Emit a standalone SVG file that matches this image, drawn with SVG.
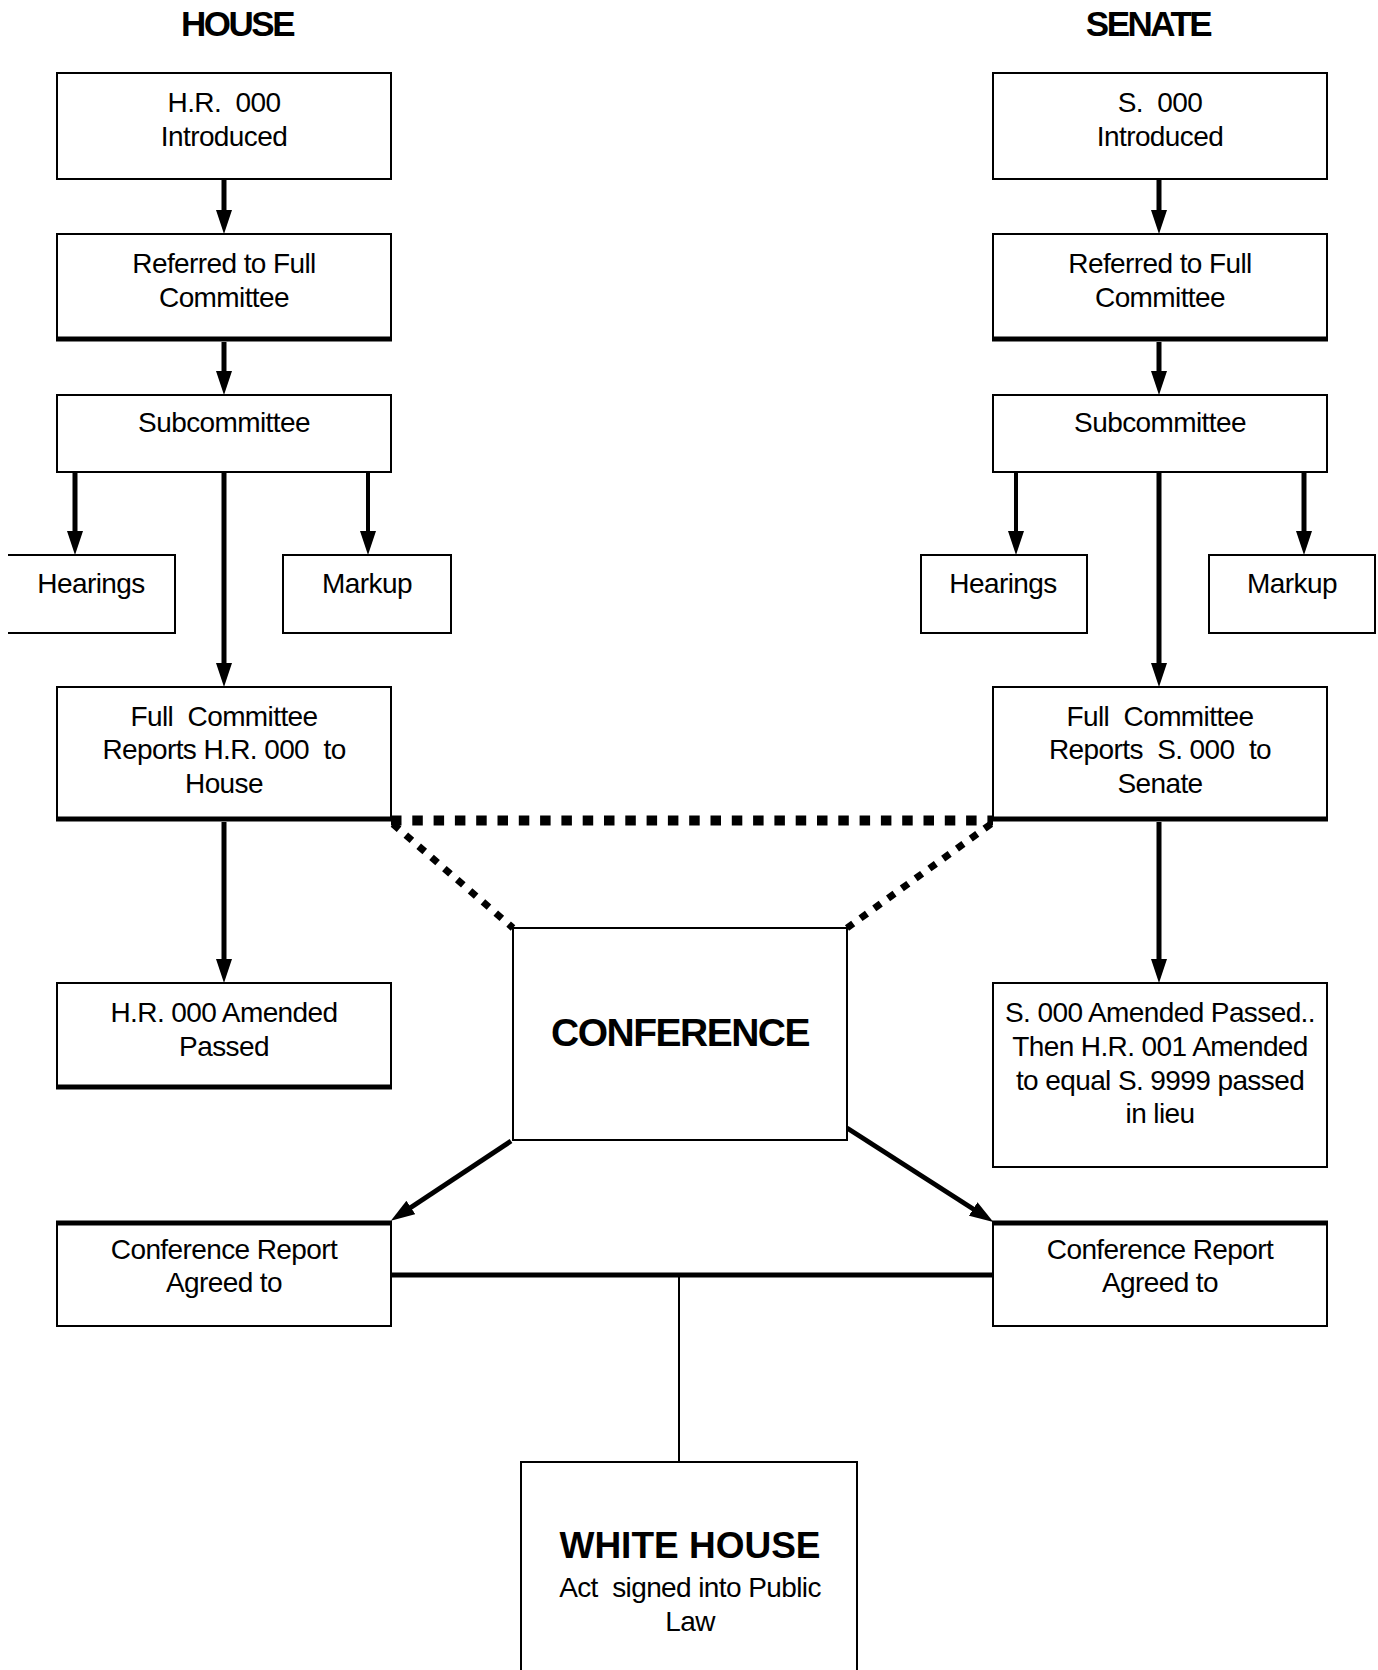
<svg xmlns="http://www.w3.org/2000/svg" width="1378" height="1670" viewBox="0 0 1378 1670" xml:space="preserve">
<style>
.box{fill:#fff;stroke:#000;stroke-width:2}
.thick{stroke:#000;stroke-width:5;fill:none}
.t{font-family:"Liberation Sans",Arial,sans-serif;font-size:28px;letter-spacing:-0.6px;text-anchor:middle;fill:#000;white-space:pre}
.title{font-family:"Liberation Sans",Arial,sans-serif;font-size:35px;font-weight:bold;letter-spacing:-2.5px;text-anchor:middle;fill:#000}
.big{font-family:"Liberation Sans",Arial,sans-serif;font-weight:bold;text-anchor:middle;fill:#000}
.arr{stroke:#000;stroke-width:5;fill:none;marker-end:url(#ah)}
.arr4{stroke:#000;stroke-width:4;fill:none;marker-end:url(#ah)}
</style>
<defs>
<marker id="ah" markerUnits="userSpaceOnUse" viewBox="0 -8 24 16" markerWidth="24" markerHeight="16" refX="1" refY="0" orient="auto">
<path d="M0,-8 L24,0 L0,8 z" fill="#000"/>
</marker>
</defs>
<rect width="1378" height="1670" fill="#fff"/>

<text class="title" x="237" y="36">HOUSE</text>
<text class="title" x="1148" y="36">SENATE</text>

<g id="connectors">
<line class="arr" x1="224" y1="180" x2="224" y2="211"/>
<line class="arr" x1="224" y1="342" x2="224" y2="372"/>
<line class="arr" x1="75" y1="473" x2="75" y2="532"/>
<line class="arr4" x1="368" y1="473" x2="368" y2="532"/>
<line class="arr" x1="224" y1="473" x2="224" y2="664"/>
<line class="arr" x1="224" y1="822" x2="224" y2="960"/>

<line class="arr" x1="1159" y1="180" x2="1159" y2="211"/>
<line class="arr" x1="1159" y1="342" x2="1159" y2="372"/>
<line class="arr4" x1="1016" y1="473" x2="1016" y2="532"/>
<line class="arr" x1="1304" y1="473" x2="1304" y2="532"/>
<line class="arr" x1="1159" y1="473" x2="1159" y2="664"/>
<line class="arr" x1="1159" y1="822" x2="1159" y2="960"/>

<line x1="391" y1="820.5" x2="993" y2="820.5" stroke="#000" stroke-width="10" stroke-dasharray="10.5 10.8"/>
<line x1="393" y1="824" x2="513" y2="928" stroke="#000" stroke-width="7" stroke-dasharray="8 9"/>
<line x1="991" y1="824" x2="847" y2="928" stroke="#000" stroke-width="7" stroke-dasharray="8 9"/>

<line class="arr" x1="511" y1="1141" x2="410" y2="1208"/>
<line class="arr" x1="847" y1="1128" x2="974" y2="1209.5"/>

<line x1="391" y1="1275" x2="993" y2="1275" stroke="#000" stroke-width="5"/>
<line x1="679" y1="1275" x2="679" y2="1462" stroke="#000" stroke-width="2"/>
</g>

<g id="h_intro">
<rect class="box" x="57" y="73" width="334" height="106"/>
<text class="t" x="224" y="112">H.R.  000</text>
<text class="t" x="224" y="146">Introduced</text>
</g>
<g id="h_ref">
<rect class="box" x="57" y="234" width="334" height="106"/>
<line class="thick" x1="56" y1="339" x2="392" y2="339"/>
<text class="t" x="224" y="273">Referred to Full</text>
<text class="t" x="224" y="307">Committee</text>
</g>
<g id="h_sub">
<rect class="box" x="57" y="395" width="334" height="77"/>
<text class="t" x="224" y="432">Subcommittee</text>
</g>
<g id="h_hear">
<path d="M8,555 H175 V633 H8" fill="#fff" stroke="#000" stroke-width="2"/>
<text class="t" x="91" y="593">Hearings</text>
</g>
<g id="h_mark">
<rect class="box" x="283" y="555" width="168" height="78"/>
<text class="t" x="367" y="593">Markup</text>
</g>
<g id="h_full">
<rect class="box" x="57" y="687" width="334" height="133"/>
<line class="thick" x1="56" y1="819" x2="392" y2="819"/>
<text class="t" x="224" y="726">Full  Committee</text>
<text class="t" x="224" y="759">Reports H.R. 000  to</text>
<text class="t" x="224" y="793">House</text>
</g>
<g id="h_pass">
<rect class="box" x="57" y="983" width="334" height="105"/>
<line class="thick" x1="56" y1="1087" x2="392" y2="1087"/>
<text class="t" x="224" y="1022">H.R. 000 Amended</text>
<text class="t" x="224" y="1056">Passed</text>
</g>
<g id="h_conf">
<rect class="box" x="57" y="1222" width="334" height="104"/>
<line class="thick" x1="56" y1="1223" x2="392" y2="1223"/>
<text class="t" x="224" y="1259">Conference Report</text>
<text class="t" x="224" y="1292">Agreed to</text>
</g>

<g id="s_intro">
<rect class="box" x="993" y="73" width="334" height="106"/>
<text class="t" x="1160" y="112">S.  000</text>
<text class="t" x="1160" y="146">Introduced</text>
</g>
<g id="s_ref">
<rect class="box" x="993" y="234" width="334" height="106"/>
<line class="thick" x1="992" y1="339" x2="1328" y2="339"/>
<text class="t" x="1160" y="273">Referred to Full</text>
<text class="t" x="1160" y="307">Committee</text>
</g>
<g id="s_sub">
<rect class="box" x="993" y="395" width="334" height="77"/>
<text class="t" x="1160" y="432">Subcommittee</text>
</g>
<g id="s_hear">
<rect class="box" x="921" y="555" width="166" height="78"/>
<text class="t" x="1003" y="593">Hearings</text>
</g>
<g id="s_mark">
<rect class="box" x="1209" y="555" width="166" height="78"/>
<text class="t" x="1292" y="593">Markup</text>
</g>
<g id="s_full">
<rect class="box" x="993" y="687" width="334" height="133"/>
<line class="thick" x1="992" y1="819" x2="1328" y2="819"/>
<text class="t" x="1160" y="726">Full  Committee</text>
<text class="t" x="1160" y="759">Reports  S. 000  to</text>
<text class="t" x="1160" y="793">Senate</text>
</g>
<g id="s_pass">
<rect class="box" x="993" y="983" width="334" height="184"/>
<text class="t" x="1160" y="1022">S. 000 Amended Passed..</text>
<text class="t" x="1160" y="1056">Then H.R. 001 Amended</text>
<text class="t" x="1160" y="1090">to equal S. 9999 passed</text>
<text class="t" x="1160" y="1123">in lieu</text>
</g>
<g id="s_conf">
<rect class="box" x="993" y="1222" width="334" height="104"/>
<line class="thick" x1="992" y1="1223" x2="1328" y2="1223"/>
<text class="t" x="1160" y="1259">Conference Report</text>
<text class="t" x="1160" y="1292">Agreed to</text>
</g>

<g id="conference">
<rect class="box" x="513" y="928" width="334" height="212"/>
<text class="big" x="680" y="1046" font-size="39" letter-spacing="-1.5">CONFERENCE</text>
</g>
<g id="white_house">
<rect class="box" x="521" y="1462" width="336" height="220"/>
<text class="big" x="690" y="1558" font-size="37">WHITE HOUSE</text>
<text class="t" x="690" y="1597">Act  signed into Public</text>
<text class="t" x="690" y="1631">Law</text>
</g>
</svg>
